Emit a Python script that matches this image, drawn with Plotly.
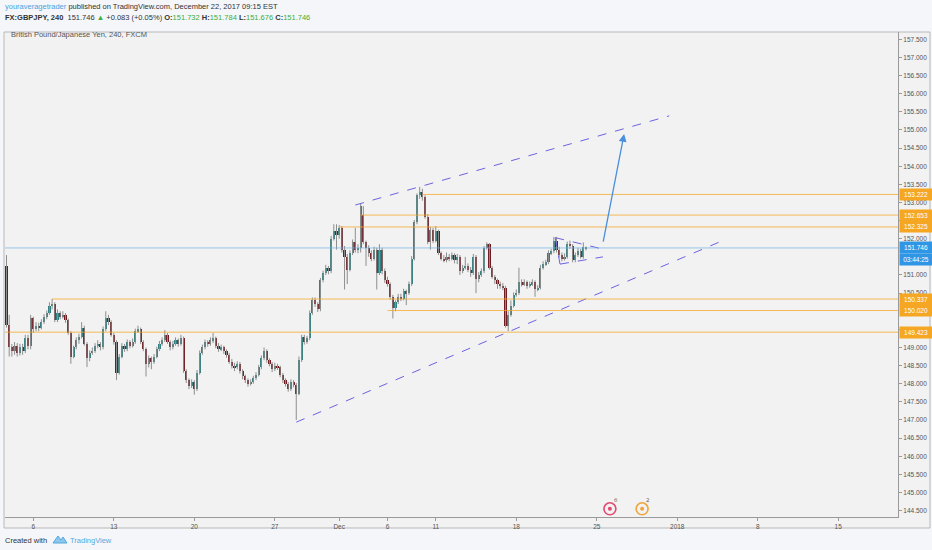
import plotly.graph_objects as go

# GBPJPY 4h candles, Nov 2 - Dec 22 2017 (bar index 0..216)
opens = [
    151.25, 149.62, 149.00, 148.90, 149.05, 148.85, 149.00, 148.90, 149.25, 149.05,
    149.80, 149.50, 149.60, 149.55, 149.70, 149.85, 149.95, 150.15, 150.20, 149.75,
    149.95, 149.85, 149.90, 149.75, 149.40, 148.75, 149.00, 149.20, 149.30, 149.55,
    149.10, 148.70, 148.85, 148.90, 149.05, 149.10, 149.00, 149.50, 149.80, 149.70,
    149.35, 149.15, 148.30, 148.75, 149.05, 148.95, 149.15, 149.05, 149.15, 149.45,
    149.50, 149.15, 148.95, 148.55, 148.70, 148.60, 148.75, 148.95, 149.10, 149.20,
    149.35, 149.15, 149.00, 149.10, 149.20, 149.10, 149.25, 148.35, 148.10, 147.95,
    148.05, 147.85, 148.30, 148.85, 149.00, 149.15, 149.10, 149.20, 149.25, 149.05,
    148.95, 149.00, 148.90, 148.80, 148.60, 148.50, 148.45, 148.55, 148.35, 148.20,
    148.10, 148.00, 148.05, 148.15, 148.25, 148.45, 148.70, 148.90, 148.65, 148.55,
    148.40, 148.50, 148.45, 148.25, 148.10, 148.00, 147.85, 148.05, 147.97, 147.72,
    148.66, 149.29, 149.15, 149.25, 149.95, 150.30, 150.20, 150.05, 150.85, 151.05,
    151.20, 151.10, 152.00, 152.20, 152.10, 152.30, 151.70, 151.50, 151.15, 151.60,
    151.90, 151.70, 151.75, 152.66, 151.90, 151.75, 151.60, 151.45, 151.70, 151.05,
    151.70, 151.10, 150.85, 150.75, 150.40, 150.10, 150.25, 150.40, 150.35, 150.55,
    150.50, 150.75, 151.45, 152.45, 153.20, 153.30, 153.15, 152.60, 151.90, 152.25,
    151.95, 152.20, 151.60, 151.45, 151.40, 151.50, 151.45, 151.55, 151.40, 151.50,
    151.10, 151.20, 151.25, 151.15, 151.05, 151.50, 150.90, 151.00, 151.10, 151.75,
    151.85, 151.20, 150.95, 150.85, 150.75, 150.70, 150.65, 149.60, 149.90, 150.15,
    150.45, 150.50, 150.80, 150.75, 150.80, 150.70, 150.75, 150.80, 150.60, 150.65,
    151.20, 151.30, 151.35, 151.60, 151.65, 151.95, 151.70, 151.55, 151.45, 151.50,
    151.85, 151.80, 151.40, 151.55, 151.65, 151.50, 151.732,
]
highs = [
    151.55, 149.90, 149.10, 149.15, 149.12, 149.10, 149.10, 149.35, 149.35, 149.90,
    149.85, 149.70, 149.68, 149.78, 149.92, 150.02, 150.25, 150.34, 150.25, 150.05,
    150.00, 150.00, 149.95, 149.80, 149.45, 149.05, 149.28, 149.38, 149.70, 149.60,
    149.15, 148.92, 149.00, 149.12, 149.20, 149.15, 149.58, 150.00, 149.90, 149.75,
    149.40, 149.20, 148.82, 149.12, 149.10, 149.22, 149.20, 149.25, 149.52, 149.60,
    149.55, 149.20, 149.00, 148.78, 148.75, 148.82, 149.02, 149.18, 149.28, 149.48,
    149.40, 149.20, 149.18, 149.28, 149.25, 149.35, 149.30, 148.40, 148.15, 148.12,
    148.10, 148.38, 148.92, 149.08, 149.22, 149.20, 149.28, 149.40, 149.30, 149.12,
    149.08, 149.05, 148.95, 148.85, 148.68, 148.58, 148.62, 148.60, 148.40, 148.25,
    148.15, 148.12, 148.22, 148.32, 148.52, 148.78, 149.00, 148.95, 148.70, 148.60,
    148.58, 148.55, 148.50, 148.30, 148.15, 148.05, 148.12, 148.10, 148.02, 148.75,
    149.35, 149.35, 149.32, 150.02, 150.38, 150.38, 150.25, 150.92, 151.12, 151.28,
    151.25, 152.08, 152.40, 152.40, 152.38, 152.35, 151.80, 151.58, 151.68, 151.98,
    152.30, 151.85, 152.98, 152.90, 151.95, 151.82, 151.68, 151.78, 151.75, 151.85,
    151.75, 151.18, 150.95, 150.80, 150.45, 150.30, 150.48, 150.48, 150.62, 150.60,
    150.82, 151.52, 152.52, 153.25, 153.43, 153.38, 153.20, 152.68, 152.32, 152.30,
    152.35, 152.25, 151.65, 151.55, 151.62, 151.58, 151.62, 151.60, 151.58, 151.55,
    151.28, 151.50, 151.32, 151.22, 151.58, 151.55, 151.08, 151.18, 151.80, 151.90,
    151.88, 151.25, 151.00, 150.90, 150.82, 150.78, 150.70, 150.00, 150.30, 150.52,
    150.60, 151.20, 150.88, 150.88, 150.85, 150.82, 150.88, 150.85, 150.72, 151.28,
    151.38, 151.42, 151.68, 151.72, 152.05, 152.05, 151.78, 151.62, 151.60, 151.92,
    151.95, 151.85, 151.62, 151.75, 151.72, 151.90, 151.784,
]
lows = [
    149.55, 148.75, 148.75, 148.80, 148.75, 148.78, 148.80, 148.85, 148.95, 148.95,
    149.40, 149.45, 149.45, 149.50, 149.65, 149.78, 149.90, 150.05, 149.70, 149.70,
    149.78, 149.80, 149.68, 149.35, 148.55, 148.70, 148.95, 149.10, 149.25, 149.05,
    148.46, 148.62, 148.80, 148.85, 148.98, 148.92, 148.95, 149.45, 149.62, 149.30,
    149.08, 148.10, 148.25, 148.70, 148.88, 148.90, 148.98, 149.00, 149.10, 149.40,
    149.10, 148.90, 148.20, 148.45, 148.40, 148.55, 148.70, 148.90, 149.05, 149.15,
    149.10, 148.92, 148.95, 149.05, 149.02, 149.05, 148.30, 148.02, 147.85, 147.88,
    147.70, 147.80, 148.25, 148.80, 148.95, 149.02, 149.05, 149.12, 148.98, 148.88,
    148.90, 148.82, 148.72, 148.55, 148.42, 148.35, 148.40, 148.28, 148.12, 148.02,
    147.92, 147.95, 148.00, 148.10, 148.20, 148.40, 148.65, 148.58, 148.48, 148.32,
    148.35, 148.38, 148.18, 148.02, 147.92, 147.78, 147.80, 147.90, 147.00, 147.68,
    148.60, 149.08, 149.10, 149.20, 149.90, 150.12, 149.98, 150.00, 150.80, 151.00,
    151.02, 151.05, 151.95, 151.70, 152.00, 151.62, 150.60, 150.75, 151.10, 151.55,
    151.62, 151.60, 151.62, 151.85, 151.25, 151.50, 151.38, 151.40, 150.60, 151.00,
    151.02, 150.78, 150.68, 150.32, 149.80, 150.00, 150.20, 150.28, 150.30, 150.17,
    150.45, 150.70, 151.40, 152.40, 153.10, 153.05, 152.55, 151.85, 151.70, 151.88,
    151.90, 151.55, 151.40, 151.35, 151.35, 151.38, 151.40, 151.32, 151.30, 151.00,
    151.05, 151.15, 151.08, 150.95, 151.00, 150.50, 150.80, 150.95, 151.05, 151.70,
    151.15, 150.90, 150.75, 150.62, 150.62, 150.58, 149.55, 149.45, 149.85, 150.10,
    150.40, 150.45, 150.68, 150.70, 150.62, 150.65, 150.70, 150.40, 150.55, 150.60,
    151.15, 151.25, 151.30, 151.55, 151.60, 151.62, 151.48, 151.38, 151.40, 151.45,
    151.72, 151.35, 151.35, 151.50, 151.45, 151.45, 151.676,
]
closes = [
    149.62, 149.00, 148.90, 149.05, 148.85, 149.00, 148.90, 149.25, 149.05, 149.80,
    149.50, 149.60, 149.55, 149.70, 149.85, 149.95, 150.15, 150.20, 149.75, 149.95,
    149.85, 149.90, 149.75, 149.40, 148.75, 149.00, 149.20, 149.30, 149.55, 149.10,
    148.70, 148.85, 148.90, 149.05, 149.10, 149.00, 149.50, 149.80, 149.70, 149.35,
    149.15, 148.30, 148.75, 149.05, 148.95, 149.15, 149.05, 149.15, 149.45, 149.50,
    149.15, 148.95, 148.55, 148.70, 148.60, 148.75, 148.95, 149.10, 149.20, 149.35,
    149.15, 149.00, 149.10, 149.20, 149.10, 149.25, 148.35, 148.10, 147.95, 148.05,
    147.85, 148.30, 148.85, 149.00, 149.15, 149.10, 149.20, 149.25, 149.05, 148.95,
    149.00, 148.90, 148.80, 148.60, 148.50, 148.45, 148.55, 148.35, 148.20, 148.10,
    148.00, 148.05, 148.15, 148.25, 148.45, 148.70, 148.90, 148.65, 148.55, 148.40,
    148.50, 148.45, 148.25, 148.10, 148.00, 147.85, 148.05, 147.97, 147.72, 148.66,
    149.29, 149.15, 149.25, 149.95, 150.30, 150.20, 150.05, 150.85, 151.05, 151.20,
    151.10, 152.00, 152.20, 152.10, 152.30, 151.70, 151.50, 151.15, 151.60, 151.90,
    151.70, 151.75, 152.90, 151.90, 151.75, 151.60, 151.45, 151.70, 151.05, 151.70,
    151.10, 150.85, 150.75, 150.40, 150.10, 150.25, 150.40, 150.35, 150.55, 150.50,
    150.75, 151.45, 152.45, 153.20, 153.30, 153.15, 152.60, 151.90, 152.25, 151.95,
    152.20, 151.60, 151.45, 151.40, 151.50, 151.45, 151.55, 151.40, 151.50, 151.10,
    151.20, 151.25, 151.15, 151.05, 151.50, 150.90, 151.00, 151.10, 151.75, 151.85,
    151.20, 150.95, 150.85, 150.75, 150.70, 150.65, 149.60, 149.90, 150.15, 150.45,
    150.50, 150.80, 150.75, 150.80, 150.70, 150.75, 150.80, 150.60, 150.65, 151.20,
    151.30, 151.35, 151.60, 151.65, 151.95, 151.70, 151.55, 151.45, 151.50, 151.85,
    151.80, 151.40, 151.55, 151.65, 151.50, 151.78, 151.746,
]

# x axis: bar index of each date label
tick_bars = [10, 40, 70, 100, 124, 142, 160, 190, 220, 250, 280, 310]
tick_labels = ["6", "13", "20", "27", "Dec", "6", "11", "18", "25", "2018", "8", "15"]
# price scale labels (the ones hidden behind the level tags are left out)
price_ticks = [144.5, 145.0, 145.5, 146.0, 146.5, 147.0, 147.5, 148.0, 148.5, 149.0,
               149.5, 150.5, 151.0, 152.0, 152.5, 153.0, 153.5, 154.0, 154.5, 155.0,
               155.5, 156.0, 156.5, 157.0, 157.5]

# horizontal support / resistance levels and the bar where each one starts
levels = [153.222, 152.653, 152.325, 150.337, 150.020, 149.423]
level_start = [155, 132, 124, 17, 142, -1]
last_price = 151.746
countdown = "03:44:25"

# drawn trend lines (bar index, price)
channel_top = ([130, 247], [152.93, 155.39])
channel_bottom = ([108, 266.7], [146.94, 151.94])
triangle_top = ([204.5, 222], [152.03, 151.72])
triangle_bottom = ([206.3, 222.3], [151.30, 151.50])
triangle_side = ([204.5, 206.3], [152.03, 151.30])
arrow_start = (222.3, 151.88)
arrow_end = (230.2, 154.89)

# economic event markers near the bottom
event_bars = [224.9, 236.9]
event_counts = ["6", "2"]
event_colors = ["#e24a72", "#f0a43a"]

W, H = 932, 550
L, R, T, B = 5, 34, 32, 33
X_RANGE = [-0.56, 332.28]
Y_RANGE = [144.324, 157.703]

UP = "#2f7f80"
DOWN = "#6e1c22"
WICK = "#8e8e8e"
ORANGE = "#f5a623"
DASH = "#6c63e0"


def px(x):
    return (x - L) / (W - L - R)


def py(y):
    return 1 - (y - T) / (H - T - B)


idx = list(range(len(closes)))

wick_x, wick_y = [], []
for i in idx:
    wick_x += [i, i, None]
    wick_y += [lows[i], highs[i], None]

body_base = [min(o, c) for o, c in zip(opens, closes)]
body_h = [max(abs(c - o), 0.012) for o, c in zip(opens, closes)]
body_col = [UP if c >= o else DOWN for o, c in zip(opens, closes)]

fig = go.Figure()

fig.add_trace(go.Scatter(x=wick_x, y=wick_y, mode="lines",
                         line=dict(color=WICK, width=1), hoverinfo="skip"))
fig.add_trace(go.Bar(x=idx, y=body_h, base=body_base, width=0.8,
                     marker=dict(color=body_col, line=dict(width=0))))

# pane frame
fig.add_shape(type="rect", xref="paper", yref="paper",
              x0=px(4), x1=px(930), y0=py(528), y1=py(32),
              line=dict(color="#b8b8b8", width=1), fillcolor="#f2f2f2", layer="below")

# level lines
for lv, st in zip(levels, level_start):
    fig.add_shape(type="line", xref="x", yref="y", x0=st, x1=X_RANGE[1], y0=lv, y1=lv,
                  line=dict(color="rgba(245,166,35,0.75)", width=1))
fig.add_shape(type="line", xref="x", yref="y", x0=X_RANGE[0], x1=X_RANGE[1],
              y0=last_price, y1=last_price,
              line=dict(color="rgba(110,175,230,0.7)", width=1))

# trend lines
for xs, ys in [channel_top, channel_bottom, triangle_top, triangle_bottom, triangle_side]:
    fig.add_trace(go.Scatter(x=xs, y=ys, mode="lines", hoverinfo="skip",
                             line=dict(color=DASH, width=1, dash="dash")))

fig.add_annotation(x=arrow_end[0], y=arrow_end[1], ax=arrow_start[0], ay=arrow_start[1],
                   xref="x", yref="y", axref="x", ayref="y", text="", showarrow=True,
                   arrowhead=2, arrowsize=1.2, arrowwidth=1.3, arrowcolor="#4a8fdb")

# event icons
fig.add_trace(go.Scatter(x=event_bars, y=[144.55] * 2, mode="markers", hoverinfo="skip",
                         marker=dict(symbol="circle-open", size=12, color=event_colors,
                                     line=dict(width=1.6))))
fig.add_trace(go.Scatter(x=event_bars, y=[144.55] * 2, mode="markers", hoverinfo="skip",
                         marker=dict(symbol="circle", size=4, color=event_colors)))
for ex, cnt in zip(event_bars, event_counts):
    fig.add_annotation(x=ex, y=144.78, xref="x", yref="y", text=cnt, showarrow=False,
                       xshift=6, font=dict(size=6, color="#555"))


# price labels on the right axis
def axis_label(price, text, color):
    fig.add_annotation(x=1, y=price, xref="paper", yref="y", text=text, showarrow=False,
                       xanchor="left", xshift=1, width=30, height=9, bgcolor=color,
                       font=dict(size=6.5, color="white", family="Liberation Sans"))


for lv in levels:
    axis_label(lv, f"{lv:.3f}", ORANGE)
axis_label(last_price, f"{last_price:.3f}", "#2f96e6")
axis_label(151.44, countdown, "#2f96e6")

# header text
fig.add_annotation(
    x=px(3), y=py(7), xref="paper", yref="paper", xanchor="left", yanchor="middle",
    showarrow=False,
    text='<span style="color:#4aa3df">youraveragetrader</span> published on TradingView.com, '
         'December 22, 2017 09:15 EST',
    font=dict(size=7.5, color="#333", family="Liberation Sans"))
fig.add_annotation(
    x=px(3), y=py(17), xref="paper", yref="paper", xanchor="left", yanchor="middle",
    showarrow=False,
    text='<b>FX:GBPJPY, 240</b>  151.746 <span style="color:#3cae3c">▲</span> +0.083 (+0.05%) '
         '<b>O:</b><span style="color:#3cae3c">151.732</span> '
         '<b>H:</b><span style="color:#3cae3c">151.784</span> '
         '<b>L:</b><span style="color:#3cae3c">151.676</span> '
         '<b>C:</b><span style="color:#3cae3c">151.746</span>',
    font=dict(size=7.5, color="#333", family="Liberation Sans"))
fig.add_annotation(
    x=px(9), y=py(35), xref="paper", yref="paper", xanchor="left", yanchor="middle",
    showarrow=False, text="British Pound/Japanese Yen, 240, FXCM",
    font=dict(size=7.5, color="#555", family="Liberation Sans"))

# footer
fig.add_annotation(
    x=px(3), y=py(540), xref="paper", yref="paper", xanchor="left", yanchor="middle",
    showarrow=False, text="Created with",
    font=dict(size=7.5, color="#333", family="Liberation Sans"))
fig.add_annotation(
    x=px(68), y=py(540), xref="paper", yref="paper", xanchor="left", yanchor="middle",
    showarrow=False, text="TradingView",
    font=dict(size=7.5, color="#55a7de", family="Liberation Sans"))
fig.add_shape(type="path", xref="paper", yref="paper",
              path=f"M {px(53)},{py(543)} L {px(58)},{py(536)} L {px(61)},{py(540)} "
                   f"L {px(63)},{py(537)} L {px(67)},{py(543)} Z",
              line=dict(color="#55a7de", width=1), fillcolor="#8cc7ee")

fig.update_layout(
    width=W, height=H,
    margin=dict(l=L, r=R, t=T, b=B),
    paper_bgcolor="#f4f6f9",
    plot_bgcolor="#f2f2f2",
    showlegend=False,
    bargap=0,
    xaxis=dict(range=X_RANGE, tickvals=tick_bars, ticktext=tick_labels,
               showgrid=False, zeroline=False, showline=True, linecolor="#9a9a9a",
               ticks="outside", ticklen=3, tickcolor="#9a9a9a",
               tickfont=dict(size=6.5, color="#555", family="Liberation Sans")),
    yaxis=dict(range=Y_RANGE, side="right", tickvals=price_ticks, tickformat=".3f",
               showgrid=False, zeroline=False, showline=True, linecolor="#9a9a9a",
               ticks="outside", ticklen=3, tickcolor="#9a9a9a",
               tickfont=dict(size=6.5, color="#555", family="Liberation Sans")),
)

# drop the default page margin so the 932x550 figure fills the window
fig.write_html("out.html", config={"displayModeBar": False},
               post_script="document.body.style.margin='0';"
                           "document.body.style.overflow='hidden';")
